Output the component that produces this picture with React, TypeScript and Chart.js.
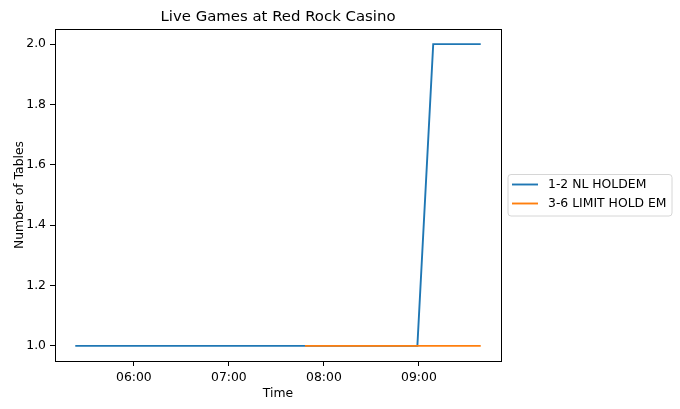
import React, { useEffect, useRef } from "react";
import { Chart, registerables } from "chart.js";

Chart.register(...registerables);

const title = "Live Games at Red Rock Casino";
const xAxisLabel = "Time";
const yAxisLabel = "Number of Tables";

const seriesNames = ["1-2 NL HOLDEM", "3-6 LIMIT HOLD EM"];
const seriesColors = ["#1f77b4", "#ff7f0e"];

const nlTimes = ["05:23", "05:53", "06:23", "06:53", "07:23", "07:48", "08:19", "08:49", "08:59", "09:09", "09:19", "09:29", "09:39"];
const nlTables = [1, 1, 1, 1, 1, 1, 1, 1, 1, 2, 2, 2, 2];

const limitTimes = ["07:48", "08:19", "08:49", "08:59", "09:09", "09:19", "09:29", "09:39"];
const limitTables = [1, 1, 1, 1, 1, 1, 1, 1];

const xTickLabels = ["06:00", "07:00", "08:00", "09:00"];
const yTickValues = [1.0, 1.2, 1.4, 1.6, 1.8, 2.0];

const toMin = (s: string) => {
  const [h, m] = s.split(":").map(Number);
  return h * 60 + m;
};
const fmtMin = (v: number) => {
  const h = Math.floor(v / 60);
  const m = Math.round(v - h * 60);
  return String(h).padStart(2, "0") + ":" + String(m).padStart(2, "0");
};

const FONT = "'DejaVu Sans', sans-serif";
const FS = 12.4;
const TFS = 14.9;

export default function App() {
  const ref = useRef<HTMLCanvasElement | null>(null);
  useEffect(() => {
    if (!ref.current) return;
    const allX = [...nlTimes, ...limitTimes].map(toMin);
    const xmin0 = Math.min(...allX);
    const xmax0 = Math.max(...allX);
    const xm = (xmax0 - xmin0) * 0.05;
    const allY = [...nlTables, ...limitTables];
    const ymin0 = Math.min(...allY);
    const ymax0 = Math.max(...allY);
    const ym = (ymax0 - ymin0) * 0.05;

    const overlay = {
      id: "overlay",
      afterDraw(chart: any) {
        const { ctx, chartArea: a } = chart;
        ctx.save();
        ctx.strokeStyle = "#000";
        ctx.lineWidth = 1;
        ctx.strokeRect(Math.round(a.left) + 0.5, Math.round(a.top) + 0.5, Math.round(a.right - a.left), Math.round(a.bottom - a.top));
        // title
        ctx.fillStyle = "#000";
        ctx.textAlign = "center";
        ctx.textBaseline = "alphabetic";
        ctx.font = `${TFS}px ${FONT}`;
        ctx.fillText(title, (a.left + a.right) / 2, 21.3);
        // axis labels
        ctx.font = `${FS}px ${FONT}`;
        ctx.fillText(xAxisLabel, (a.left + a.right) / 2, 397);
        ctx.save();
        ctx.translate(22.5, (a.top + a.bottom) / 2);
        ctx.rotate(-Math.PI / 2);
        ctx.fillText(yAxisLabel, 0, 0);
        ctx.restore();
        // legend
        const lx = 508, ly = 174.5, lw = 164, lh = 41.5, r = 3;
        ctx.beginPath();
        ctx.moveTo(lx + r, ly);
        ctx.arcTo(lx + lw, ly, lx + lw, ly + lh, r);
        ctx.arcTo(lx + lw, ly + lh, lx, ly + lh, r);
        ctx.arcTo(lx, ly + lh, lx, ly, r);
        ctx.arcTo(lx, ly, lx + lw, ly, r);
        ctx.closePath();
        ctx.fillStyle = "rgba(255,255,255,0.8)";
        ctx.fill();
        ctx.strokeStyle = "#d6d6d6";
        ctx.stroke();
        ctx.textAlign = "left";
        ctx.textBaseline = "middle";
        seriesNames.forEach((name, i) => {
          const yy = 184.5 + i * 19;
          ctx.strokeStyle = seriesColors[i];
          ctx.lineWidth = 1.9;
          ctx.beginPath();
          ctx.moveTo(512, yy);
          ctx.lineTo(538, yy);
          ctx.stroke();
          ctx.fillStyle = "#000";
          ctx.fillText(name, 548, yy + 0.5);
        });
        ctx.restore();
      },
    };

    const chart = new Chart(ref.current, {
      type: "line",
      data: {
        datasets: [
          {
            label: seriesNames[0],
            data: nlTimes.map((t, i) => ({ x: toMin(t), y: nlTables[i] })),
            borderColor: seriesColors[0],
            backgroundColor: seriesColors[0],
            borderWidth: 1.9,
            pointRadius: 0,
            tension: 0,
            order: 1,
          },
          {
            label: seriesNames[1],
            data: limitTimes.map((t, i) => ({ x: toMin(t), y: limitTables[i] })),
            borderColor: seriesColors[1],
            backgroundColor: seriesColors[1],
            borderWidth: 1.9,
            pointRadius: 0,
            tension: 0,
            order: 0,
          },
        ],
      },
      options: {
        responsive: false,
        animation: false,
        devicePixelRatio: 1,
        layout: { padding: { left: 0, right: 179, top: 29, bottom: 0 } },
        plugins: { legend: { display: false }, title: { display: false }, tooltip: { enabled: false } },
        scales: {
          x: {
            type: "linear",
            min: xmin0 - xm,
            max: xmax0 + xm,
            afterBuildTicks: (s: any) => {
              s.ticks = xTickLabels.map((l) => ({ value: toMin(l) }));
            },
            afterFit: (s: any) => {
              s.height = 48;
            },
            ticks: {
              callback: (v: any) => fmtMin(Number(v)),
              color: "#000",
              font: { family: FONT, size: FS },
              padding: 4,
              maxRotation: 0,
            },
            grid: { display: true, drawOnChartArea: false, drawTicks: true, tickLength: 5, color: "#000", tickWidth: 1 },
            border: { display: true, color: "#000" },
          },
          y: {
            type: "linear",
            min: ymin0 - ym,
            max: ymax0 + ym,
            afterBuildTicks: (s: any) => {
              s.ticks = yTickValues.map((v) => ({ value: v }));
            },
            afterFit: (s: any) => {
              s.width = 55;
            },
            ticks: {
              callback: (v: any) => Number(v).toFixed(1),
              color: "#000",
              font: { family: FONT, size: FS },
              padding: 4,
            },
            grid: { display: true, drawOnChartArea: false, drawTicks: true, tickLength: 5, color: "#000", tickWidth: 1 },
            border: { display: true, color: "#000" },
          },
        },
      },
      plugins: [overlay],
    });
    return () => chart.destroy();
  }, []);
  return (
    <div style={{ position: "absolute", left: 0, top: 0, width: 680, height: 409, background: "#fff" }}>
      <canvas ref={ref} width={680} height={409} style={{ width: 680, height: 409 }} />
    </div>
  );
}
